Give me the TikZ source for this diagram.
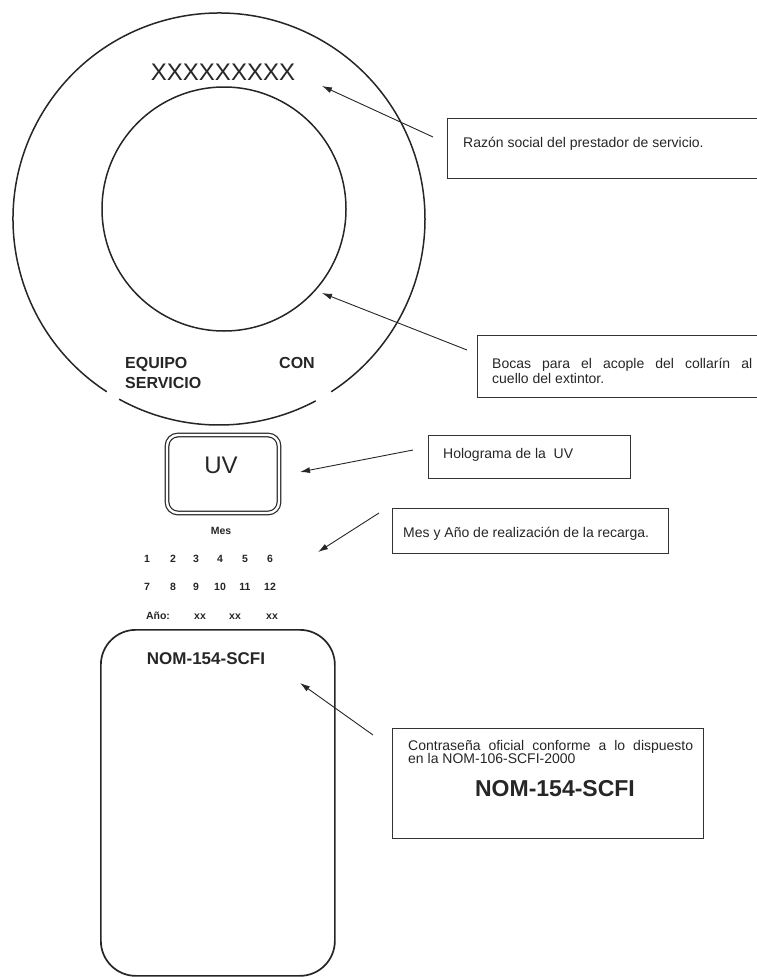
\documentclass[tikz,border=0pt]{standalone}
\usepackage{fontspec}
\setmainfont{Liberation Sans}
\usetikzlibrary{arrows.meta}
\begin{document}
\begin{tikzpicture}[x=1pt,y=-1pt,
  ring/.style={draw=black!85, line width=1.5pt},
  callout/.style={draw=black!80, line width=1.3pt, rectangle, inner sep=0pt, anchor=north west},
  ctext/.style={font=\fontsize{14}{15}\selectfont, anchor=base west, inner sep=0pt, text=black!85},
  pointer/.style={draw=black!85, line width=0.9pt, -{Latex[length=10pt,width=6pt]}},
  bigb/.style={font=\fontsize{16}{20}\selectfont\bfseries, anchor=base west, inner sep=0pt, text=black!85},
  cell/.style={font=\fontsize{10.5}{12}\selectfont\bfseries, anchor=base, inner sep=0pt, text=black!85}
]
\useasboundingbox (0,0) rectangle (757,977);
\clip (0,0) rectangle (757,977);

% --- seal (outer ring with two gaps, inner circle)
\coordinate (O) at (219,219);
\draw[ring] (O) ++(123:206) arc[start angle=123, end angle=417, radius=206];
\draw[ring] (O) ++(62:206) arc[start angle=62, end angle=119, radius=206];
\node[draw=black!85, line width=1.5pt, circle, inner sep=0pt, minimum size=244pt] (inner) at (224,209) {};

\node[font=\fontsize{24}{28}\selectfont, anchor=base, inner sep=0pt, text=black!85] (xname) at (223,80) {XXXXXXXXX};
\node[bigb] (equipo) at (125,368) {EQUIPO};
\node[bigb] (servicio) at (125,388) {SERVICIO};
\node[bigb] (con) at (279,368) {CON};

% --- callout 1
\node[callout, minimum width=330pt, minimum height=60pt] (box1) at (447,118) {};
\node[ctext] (t1) at (463,147) {Razón social del prestador de servicio.};
\coordinate (s1) at (433,137);
\coordinate (e1) at (322,86);
\draw[pointer] (s1) -- (e1);

% --- callout 2
\node[callout, minimum width=300pt, minimum height=62pt] (box2) at (477,335) {};
\node[ctext] (t2a) at (492,368) {\makebox[260pt][s]{Bocas para el acople del collarín al}};
\node[ctext] (t2b) at (492,383) {cuello del extintor.};
\coordinate (s2) at (467,350);
\coordinate (e2) at (322,293);
\draw[pointer] (s2) -- (e2);

% --- UV hologram
\node[draw=black!85, line width=1.2pt, double, double distance=2.4pt, rounded corners=11pt,
      minimum width=112pt, minimum height=78pt, inner sep=0pt] (uvbox) at (223,474) {};
\node[font=\fontsize{24}{28}\selectfont, anchor=base, inner sep=0pt, text=black!85] (uv) at (221,473) {UV};

\node[callout, minimum width=202pt, minimum height=43pt] (box3) at (428,435) {};
\node[ctext] (t3) at (443,458) {Holograma de la\ \ UV};
\coordinate (s3) at (413,450);
\coordinate (e3) at (300,472);
\draw[pointer] (s3) -- (e3);

% --- month / year grid
\node[cell] (mes) at (221,534) {Mes};
\foreach \n/\x in {1/147,2/173,3/196,4/220,5/245,6/270}{
  \node[cell] (m\n) at (\x,562) {\n};
}
\foreach \n/\x in {7/147,8/173,9/196,10/220,11/245,12/270}{
  \node[cell] (m\n) at (\x,590) {\n};
}
\node[cell] (anio) at (158,619) {Año:};
\node[cell] (y1) at (200,619) {xx};
\node[cell] (y2) at (235,619) {xx};
\node[cell] (y3) at (272,619) {xx};

\node[callout, minimum width=276pt, minimum height=45pt] (box4) at (392,508) {};
\node[ctext] (t4) at (403,537) {Mes y Año de realización de la recarga.};
\coordinate (s4) at (379,513);
\coordinate (e4) at (318,552);
\draw[pointer] (s4) -- (e4);

% --- official mark
\node[draw=black!85, line width=1.7pt, rounded corners=35pt, minimum width=234pt, minimum height=346pt,
      inner sep=0pt, anchor=north west] (nombox) at (100,629) {};
\node[font=\fontsize{17}{20}\selectfont\bfseries, anchor=base, inner sep=0pt, text=black!85] (nom1) at (206,664) {NOM-154-SCFI};

\node[callout, minimum width=311pt, minimum height=110pt] (box5) at (392,728) {};
\node[ctext] (t5a) at (408,750) {\makebox[285pt][s]{Contraseña oficial conforme a lo dispuesto}};
\node[ctext] (t5b) at (408,763) {en la NOM-106-SCFI-2000};
\node[font=\fontsize{23}{26}\selectfont\bfseries, anchor=base, inner sep=0pt, text=black!85] (nom2) at (555,796) {NOM-154-SCFI};
\coordinate (s5) at (373,735);
\coordinate (e5) at (300,683);
\draw[pointer] (s5) -- (e5);
\end{tikzpicture}
\end{document}
